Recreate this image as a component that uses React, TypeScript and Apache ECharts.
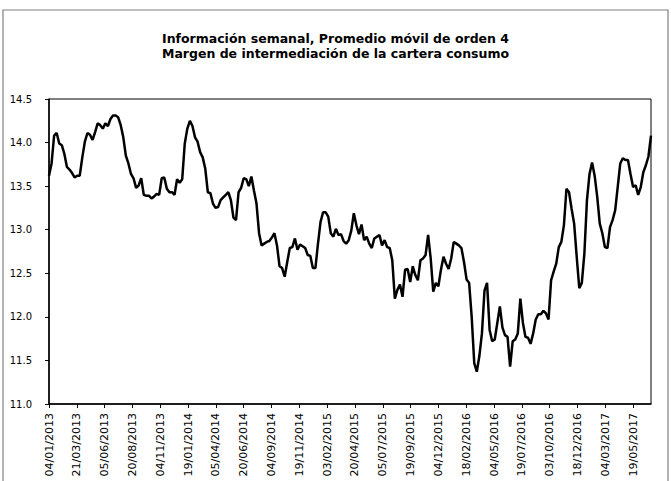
import React, { useEffect, useRef } from "react";
import * as echarts from "echarts";

const titleLines = [
  "Información semanal, Promedio móvil de orden 4",
  "Margen de intermediación de la cartera consumo",
];

const startDate = "04/01/2013";

const tickLabels = [
  "04/01/2013", "21/03/2013", "05/06/2013", "20/08/2013", "04/11/2013",
  "19/01/2014", "05/04/2014", "20/06/2014", "04/09/2014", "19/11/2014",
  "03/02/2015", "20/04/2015", "05/07/2015", "19/09/2015", "04/12/2015",
  "18/02/2016", "04/05/2016", "19/07/2016", "03/10/2016", "18/12/2016",
  "04/03/2017", "19/05/2017",
];

const yTicks = [11.0, 11.5, 12.0, 12.5, 13.0, 13.5, 14.0, 14.5];

// weekly values (one per week starting at startDate)
const weeklyValues = [
  13.62, 13.76, 14.08, 14.11, 13.99, 13.97, 13.87, 13.72, 13.69, 13.65,
  13.60, 13.62, 13.62, 13.83, 14.01, 14.11, 14.09, 14.03, 14.12, 14.22,
  14.20, 14.16, 14.22, 14.19, 14.27, 14.31, 14.31, 14.29, 14.20, 14.06,
  13.85, 13.76, 13.64, 13.59, 13.48, 13.51, 13.59, 13.40, 13.39, 13.39,
  13.36, 13.38, 13.41, 13.40, 13.59, 13.60, 13.47, 13.43, 13.43, 13.40,
  13.58, 13.54, 13.58, 13.99, 14.16, 14.25, 14.19, 14.06, 14.01, 13.89,
  13.83, 13.70, 13.43, 13.42, 13.30, 13.25, 13.26, 13.34, 13.37, 13.40,
  13.43, 13.34, 13.14, 13.11, 13.43, 13.48, 13.59, 13.58, 13.50, 13.61,
  13.45, 13.30, 12.96, 12.82, 12.84, 12.86, 12.87, 12.91, 12.96, 12.82,
  12.58, 12.56, 12.46, 12.63, 12.79, 12.80, 12.90, 12.77, 12.83, 12.81,
  12.79, 12.71, 12.70, 12.56, 12.56, 12.84, 13.09, 13.20, 13.20, 13.15,
  12.96, 12.92, 13.01, 12.94, 12.95, 12.87, 12.84, 12.88, 12.99, 13.19,
  13.05, 12.95, 13.06, 12.88, 12.92, 12.84, 12.79, 12.90, 12.92, 12.94,
  12.82, 12.88, 12.80, 12.79, 12.65, 12.21, 12.31, 12.37, 12.23, 12.54,
  12.55, 12.40, 12.58, 12.48, 12.42, 12.65, 12.67, 12.71, 12.94, 12.67,
  12.29, 12.39, 12.35, 12.54, 12.69, 12.61, 12.55, 12.67, 12.86, 12.84,
  12.82, 12.79, 12.63, 12.43, 12.39, 12.00, 11.47, 11.37, 11.55, 11.81,
  12.30, 12.39, 11.85, 11.72, 11.74, 11.93, 12.12, 11.88, 11.79, 11.77,
  11.43, 11.72, 11.74, 11.81, 12.21, 11.93, 11.77, 11.76, 11.69, 11.81,
  11.97, 12.03, 12.03, 12.07, 12.04, 11.97, 12.42, 12.52, 12.61, 12.80,
  12.86, 13.05, 13.47, 13.43, 13.24, 13.07, 12.69, 12.33, 12.39, 12.73,
  13.34, 13.64, 13.77, 13.62, 13.38, 13.07, 12.96, 12.80, 12.79, 13.03,
  13.11, 13.22, 13.49, 13.76, 13.82, 13.80, 13.80, 13.64, 13.49, 13.51,
  13.40, 13.49, 13.66, 13.74, 13.84, 14.08,
];

const DAY = 86400000;
function parseDMY(s: string): number {
  const [d, m, y] = s.split("/").map(Number);
  return Date.UTC(y, m - 1, d);
}
const startMs = parseDMY(startDate);
function dayOffset(s: string): number {
  return Math.round((parseDMY(s) - startMs) / DAY);
}
function fmtDay(v: number): string {
  const dt = new Date(startMs + Math.round(v) * DAY);
  const dd = String(dt.getUTCDate()).padStart(2, "0");
  const mm = String(dt.getUTCMonth() + 1).padStart(2, "0");
  return `${dd}/${mm}/${dt.getUTCFullYear()}`;
}

export default function App() {
  const ref = useRef<HTMLDivElement>(null);
  useEffect(() => {
    if (!ref.current) return;
    const chart = echarts.init(ref.current, undefined, { renderer: "svg" });
    const tickDays = tickLabels.map(dayOffset);
    const step = tickDays[1] - tickDays[0];
    const data = weeklyValues.map((v, i) => [i * 7, v]);
    const lastDay = (weeklyValues.length - 1) * 7;
    chart.setOption({
      animation: false,
      backgroundColor: "#fff",
      title: {
        text: titleLines.join("\n"),
        left: "center",
        top: 26,
        textStyle: {
          fontFamily: "DejaVu Sans",
          fontSize: 12.5,
          fontWeight: "bold",
          color: "#000",
          lineHeight: 15,
        },
      },
      graphic: [
        {
          type: "rect",
          shape: { x: 3, y: 10, width: 665, height: 520 },
          style: { fill: "none", stroke: "#808080", lineWidth: 1.2 },
          silent: true,
        },
      ],
      grid: {
        left: 49,
        right: 20,
        top: 99,
        bottom: 77,
        show: true,
        borderColor: "#000",
        borderWidth: 1,
        backgroundColor: "transparent",
      },
      xAxis: {
        type: "value",
        min: 0,
        max: lastDay,
        interval: step,
        splitLine: { show: false },
        axisLine: { show: true, lineStyle: { color: "#000", width: 1.5 } },
        axisTick: {
          show: true,
          length: 4,
          lineStyle: { color: "#000", width: 1 },
          customValues: tickDays,
        },
        axisLabel: {
          rotate: 90,
          margin: 9,
          fontFamily: "DejaVu Sans",
          fontSize: 11,
          color: "#000",
          customValues: tickDays,
          formatter: (v: number) =>
            tickDays.indexOf(Math.round(v)) >= 0 ? fmtDay(v) : "",
        },
      },
      yAxis: {
        type: "value",
        min: yTicks[0],
        max: yTicks[yTicks.length - 1],
        interval: yTicks[1] - yTicks[0],
        splitLine: { show: false },
        axisLine: { show: true, lineStyle: { color: "#000", width: 1.5 } },
        axisTick: { show: true, length: 4, lineStyle: { color: "#000", width: 1 } },
        axisLabel: {
          margin: 17,
          fontFamily: "DejaVu Sans",
          fontSize: 10,
          color: "#000",
          formatter: (v: number) => v.toFixed(1),
        },
      },
      series: [
        {
          type: "line",
          data,
          showSymbol: false,
          symbol: "none",
          lineStyle: { color: "#000", width: 2.5 },
          silent: true,
        },
      ],
    });
    return () => chart.dispose();
  }, []);
  return (
    <div
      ref={ref}
      style={{ position: "fixed", left: 0, top: 0, width: 671, height: 481 }}
    />
  );
}
